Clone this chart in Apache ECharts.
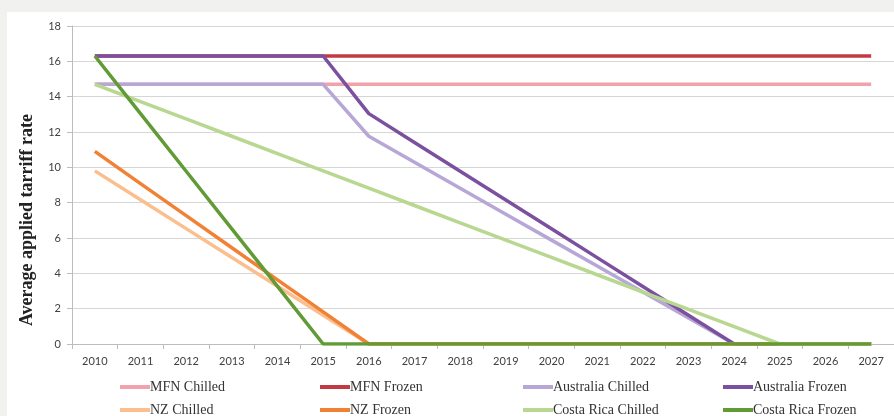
<!DOCTYPE html>
<html>
<head>
<meta charset="utf-8">
<script src="https://cdn.jsdelivr.net/npm/echarts@6/dist/echarts.min.js"></script>
<style>
  html, body { margin: 0; padding: 0; background: #f1f1f0; }
  #chart { width: 894px; height: 416px; }
</style>
</head>
<body>
<div id="chart"></div>
<script>
// Tariff phase-out schedules, 2010–2027
const years = ['2010','2011','2012','2013','2014','2015','2016','2017','2018',
  '2019','2020','2021','2022','2023','2024','2025','2026','2027'];

const mfnChilled = [14.7,14.7,14.7,14.7,14.7,14.7,14.7,14.7,14.7,14.7,14.7,14.7,14.7,14.7,14.7,14.7,14.7,14.7];
const mfnFrozen = [16.3,16.3,16.3,16.3,16.3,16.3,16.3,16.3,16.3,16.3,16.3,16.3,16.3,16.3,16.3,16.3,16.3,16.3];
const ausChilled = [14.7,14.7,14.7,14.7,14.7,14.7,11.76,10.29,8.82,7.35,5.88,4.41,2.94,1.47,0,0,0,0];
const ausFrozen = [16.3,16.3,16.3,16.3,16.3,16.3,13.04,11.41,9.78,8.15,6.52,4.89,3.26,1.63,0,0,0,0];
const nzChilled = [9.8,8.17,6.53,4.9,3.27,1.63,0,0,0,0,0,0,0,0,0,0,0,0];
const nzFrozen = [10.9,9.08,7.27,5.45,3.63,1.82,0,0,0,0,0,0,0,0,0,0,0,0];
const crChilled = [14.7,13.72,12.74,11.76,10.78,9.8,8.82,7.84,6.86,5.88,4.9,3.92,2.94,1.96,0.98,0,0,0];
const crFrozen = [16.3,13.04,9.78,6.52,3.26,0,0,0,0,0,0,0,0,0,0,0,0,0];

const yTicks = [0, 2, 4, 6, 8, 10, 12, 14, 16, 18];
const yTitle = 'Average applied tarriff rate';

const seriesDefs = [
  { name: 'MFN Chilled', data: mfnChilled, color: '#f2a2aa' },
  { name: 'MFN Frozen', data: mfnFrozen, color: '#c33b42' },
  { name: 'Australia Chilled', data: ausChilled, color: '#b7a7d6' },
  { name: 'Australia Frozen', data: ausFrozen, color: '#7b519f' },
  { name: 'NZ Chilled', data: nzChilled, color: '#fbbf8e' },
  { name: 'NZ Frozen', data: nzFrozen, color: '#f08135' },
  { name: 'Costa Rica Chilled', data: crChilled, color: '#b8d790' },
  { name: 'Costa Rica Frozen', data: crFrozen, color: '#609b35' }
];

// legend slots: four columns, two rows
const legendCols = [120, 320, 523, 723];
const legendRows = [380, 403];

const legends = seriesDefs.map((s, i) => ({
  data: [s.name],
  left: legendCols[i % 4],
  top: legendRows[Math.floor(i / 4)],
  icon: 'rect',
  itemWidth: 30,
  itemHeight: 4,
  itemGap: 0,
  padding: 0,
  textStyle: { fontFamily: 'Liberation Serif', fontSize: 14, color: '#333', padding: [0, 0, 0, -5] },
  selectedMode: false
}));

const chart = echarts.init(document.getElementById('chart'), null, { renderer: 'canvas' });
chart.setOption({
  backgroundColor: '#f1f1f0',
  animation: false,
  graphic: [{
    type: 'rect', left: 7, top: 12, z: -10,
    shape: { width: 900, height: 410 },
    style: { fill: '#ffffff' }
  }, {
    // rotated y-axis title
    type: 'text',
    x: 27, y: 220,
    rotation: Math.PI / 2,
    style: {
      text: yTitle,
      fontFamily: 'Liberation Serif',
      fontWeight: 'bold',
      fontSize: 18,
      fill: '#222',
      align: 'center',
      verticalAlign: 'middle'
    }
  }],
  legend: legends,
  grid: { left: 72, top: 26, width: 826, height: 318, containLabel: false },
  xAxis: {
    type: 'category',
    data: years,
    boundaryGap: true,
    axisLine: { lineStyle: { color: '#bdbdbd' } },
    axisTick: { show: true, length: 5, lineStyle: { color: '#bdbdbd' } },
    axisLabel: { color: '#404040', fontFamily: 'Lato', fontSize: 11, margin: 12 }
  },
  yAxis: {
    type: 'value',
    min: yTicks[0],
    max: yTicks[yTicks.length - 1],
    interval: 2,
    axisLine: { show: true, lineStyle: { color: '#bdbdbd' } },
    axisTick: { show: true, length: 5, lineStyle: { color: '#bdbdbd' } },
    axisLabel: { color: '#404040', fontFamily: 'Lato', fontSize: 11, margin: 11 },
    splitLine: { lineStyle: { color: '#d6d6d6', width: 1 } }
  },
  series: seriesDefs.map(s => ({
    name: s.name,
    type: 'line',
    data: s.data,
    symbol: 'none',
    lineStyle: { color: s.color, width: 3.5 },
    itemStyle: { color: s.color },
    emphasis: { disabled: true }
  }))
});
</script>
</body>
</html>
